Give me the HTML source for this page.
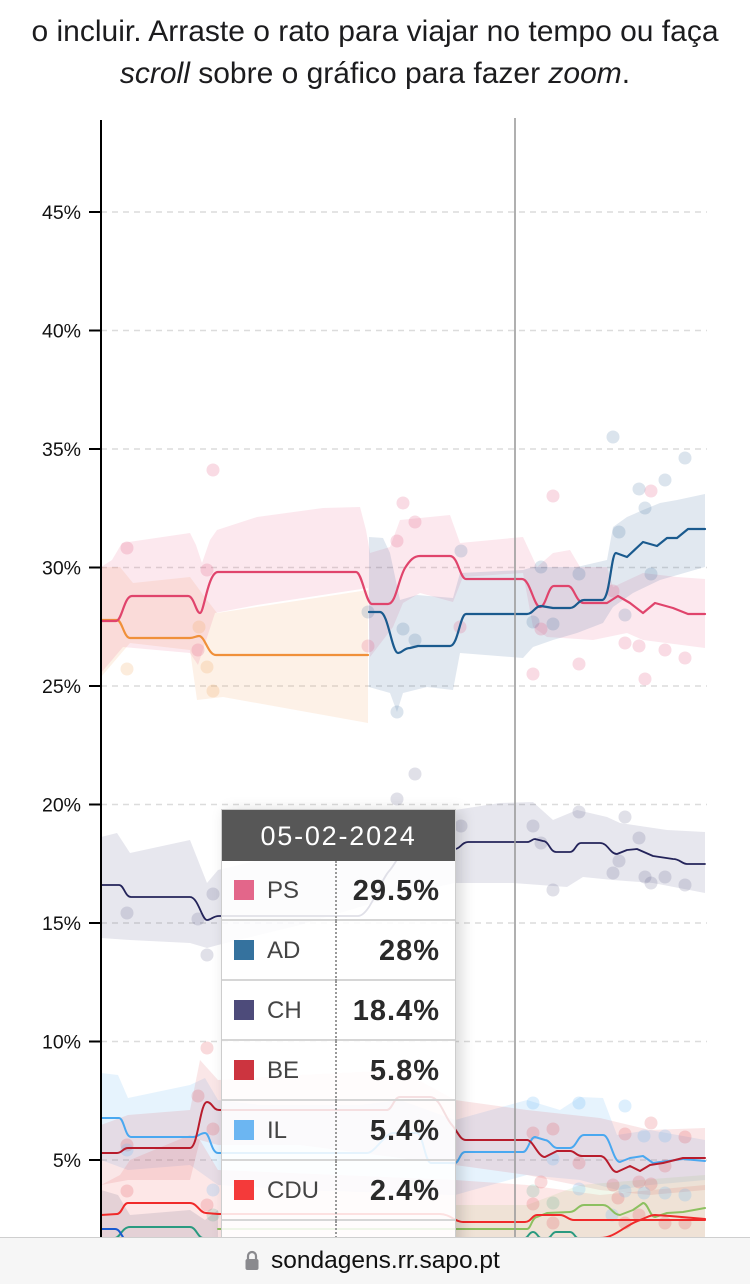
<!DOCTYPE html>
<html><head><meta charset="utf-8">
<style>
html,body{margin:0;padding:0;background:#fff;}
body{width:750px;height:1283px;position:relative;overflow:hidden;font-family:"Liberation Sans",sans-serif;}
.intro{position:absolute;left:0;width:750px;text-align:center;color:#1c1c1e;font-size:30px;line-height:42px;}
svg{position:absolute;left:0;top:0;}
.tt{position:absolute;left:221px;top:809px;width:233px;background:rgba(255,255,255,0.86);border:1px solid #cdcdcd;box-shadow:5px 2px 14px rgba(0,0,0,0.16);}
.hd{height:51px;background:#575757;color:#fff;font-size:27px;letter-spacing:1.8px;text-align:center;line-height:52px;}
.row{position:relative;height:58px;border-bottom:2px solid #d6d6d6;}
.sw{position:absolute;left:12px;top:19px;width:20px;height:20px;}
.lb{position:absolute;left:45px;top:0;line-height:60px;font-size:24px;color:#444;}
.dv{position:absolute;left:113px;top:0;height:60px;border-left:2px dotted #999;}
.vl{position:absolute;right:15px;top:0;line-height:60px;font-size:29px;font-weight:bold;color:#2a2a2a;letter-spacing:1px;}
.bar{position:absolute;left:0;top:1237px;width:750px;height:46px;background:#f6f6f6;border-top:1px solid #cfcfcf;}
.url{position:absolute;left:271px;top:8px;font-size:24.5px;color:#111;line-height:30px;}
</style></head>
<body>
<div class="intro" style="top:11px;">o incluir. Arraste o rato para viajar no tempo ou faça</div>
<div class="intro" style="top:53px;"><i>scroll</i> sobre o gráfico para fazer <i>zoom</i>.</div>

<svg width="750" height="1283" viewBox="0 0 750 1283">
<defs><clipPath id="c"><rect x="101" y="100" width="620" height="1137"/></clipPath></defs>
<g stroke="#dcdcdc" stroke-width="1.5" stroke-dasharray="6,5">
<line x1="101" y1="212" x2="707" y2="212"/>
<line x1="101" y1="330.5" x2="707" y2="330.5"/>
<line x1="101" y1="449" x2="707" y2="449"/>
<line x1="101" y1="567.5" x2="707" y2="567.5"/>
<line x1="101" y1="686" x2="707" y2="686"/>
<line x1="101" y1="804.5" x2="707" y2="804.5"/>
<line x1="101" y1="923" x2="707" y2="923"/>
<line x1="101" y1="1041.5" x2="707" y2="1041.5"/>
<line x1="101" y1="1160" x2="707" y2="1160"/>
</g>
<g clip-path="url(#c)">
<path fill="rgba(240,150,70,0.13)" d="M101,567 L120,567 L133,583 L190,577 L207,600 L217,613 L368,590 L368,723 L223,697 L197,700 L190,650 L130,643 L101,677 Z"/>
<path fill="rgba(228,80,120,0.13)" d="M101,567 L112,560 L122,543 L190,533 L196,545 L202,563 L210,540 L217,530 L257,517 L323,508 L360,507 L366,530 L370,553 L390,547 L400,520 L450,515 L460,543 L523,537 L537,567 L553,553 L570,550 L580,567 L607,567 L613,587 L643,573 L677,577 L705,579 L705,648 L643,640 L627,633 L593,640 L547,637 L533,627 L523,573 L463,577 L453,602 L420,593 L403,603 L393,627 L370,657 L368,588 L257,605 L215,613 L198,665 L190,653 L123,647 L101,673 Z"/>
<path fill="rgba(40,95,150,0.14)" d="M369,537 L383,538 L390,553 L400,600 L417,595 L453,598 L460,573 L523,570 L533,567 L577,567 L607,560 L613,527 L627,517 L643,510 L660,503 L677,500 L705,494 L705,567 L660,580 L633,593 L613,607 L603,623 L577,633 L553,640 L533,647 L523,658 L460,653 L453,690 L427,687 L403,693 L397,712 L390,693 L369,687 Z"/>
<path fill="rgba(70,70,120,0.13)" d="M101,837 L117,833 L130,853 L190,840 L207,883 L218,870 L300,850 L360,835 L400,818 L455,810 L500,803 L533,802 L553,820 L577,810 L607,817 L620,823 L667,830 L705,832 L705,893 L653,883 L613,880 L583,877 L567,887 L513,883 L455,883 L400,895 L300,925 L218,945 L207,948 L190,943 L130,940 L101,938 Z"/>
<path fill="rgba(100,180,245,0.16)" d="M101,1073 L118,1075 L128,1098 L190,1085 L205,1078 L218,1100 L260,1105 L360,1105 L400,1100 L455,1120 L527,1100 L560,1110 L580,1097 L603,1098 L617,1135 L650,1130 L705,1140 L705,1180 L650,1185 L617,1190 L580,1180 L527,1175 L455,1195 L300,1190 L218,1185 L190,1165 L128,1170 L101,1160 Z"/>
<path fill="rgba(210,50,60,0.12)" d="M101,1125 L128,1115 L190,1110 L200,1060 L218,1080 L300,1075 L400,1070 L455,1100 L527,1110 L600,1118 L650,1130 L705,1128 L705,1190 L650,1195 L600,1190 L527,1175 L455,1165 L300,1145 L218,1145 L200,1140 L190,1180 L128,1180 L101,1185 Z"/>
<path fill="rgba(240,60,60,0.12)" d="M101,1185 L120,1175 L130,1160 L190,1135 L200,1140 L218,1170 L455,1180 L527,1185 L600,1195 L705,1185 L705,1240 L101,1240 Z"/>
<path fill="rgba(140,190,90,0.12)" d="M455,1205 L527,1205 L580,1185 L640,1180 L705,1175 L705,1240 L455,1240 Z"/>
<path fill="rgba(80,80,110,0.14)" d="M101,1190 L118,1195 L130,1215 L190,1210 L205,1220 L218,1210 L218,1240 L101,1240 Z"/>
<g fill="rgba(228,90,130,0.22)">
<circle cx="127" cy="548" r="6.5"/><circle cx="213" cy="470" r="6.5"/><circle cx="207" cy="570" r="6.5"/><circle cx="198" cy="650" r="6.5"/><circle cx="368" cy="646" r="6.5"/><circle cx="403" cy="503" r="6.5"/><circle cx="415" cy="522" r="6.5"/><circle cx="397" cy="541" r="6.5"/><circle cx="460" cy="627" r="6.5"/><circle cx="533" cy="674" r="6.5"/><circle cx="541" cy="629" r="6.5"/><circle cx="553" cy="496" r="6.5"/><circle cx="579" cy="664" r="6.5"/><circle cx="613" cy="591" r="6.5"/><circle cx="625" cy="643" r="6.5"/><circle cx="639" cy="646" r="6.5"/><circle cx="645" cy="679" r="6.5"/><circle cx="651" cy="491" r="6.5"/><circle cx="665" cy="650" r="6.5"/><circle cx="685" cy="658" r="6.5"/>
</g>
<g fill="rgba(40,95,150,0.17)">
<circle cx="368" cy="612" r="6.5"/><circle cx="397" cy="712" r="6.5"/><circle cx="403" cy="629" r="6.5"/><circle cx="415" cy="640" r="6.5"/><circle cx="461" cy="551" r="6.5"/><circle cx="533" cy="622" r="6.5"/><circle cx="541" cy="567" r="6.5"/><circle cx="553" cy="624" r="6.5"/><circle cx="579" cy="574" r="6.5"/><circle cx="613" cy="437" r="6.5"/><circle cx="619" cy="532" r="6.5"/><circle cx="625" cy="615" r="6.5"/><circle cx="639" cy="489" r="6.5"/><circle cx="645" cy="508" r="6.5"/><circle cx="651" cy="574" r="6.5"/><circle cx="665" cy="480" r="6.5"/><circle cx="685" cy="458" r="6.5"/>
</g>
<g fill="rgba(240,160,80,0.2)">
<circle cx="127" cy="669" r="6.5"/><circle cx="199" cy="627" r="6.5"/><circle cx="207" cy="667" r="6.5"/><circle cx="213" cy="691" r="6.5"/>
</g>
<g fill="rgba(70,70,120,0.17)">
<circle cx="127" cy="913" r="6.5"/><circle cx="198" cy="919" r="6.5"/><circle cx="213" cy="894" r="6.5"/><circle cx="207" cy="955" r="6.5"/><circle cx="397" cy="799" r="6.5"/><circle cx="415" cy="774" r="6.5"/><circle cx="461" cy="826" r="6.5"/><circle cx="533" cy="826" r="6.5"/><circle cx="541" cy="843" r="6.5"/><circle cx="553" cy="890" r="6.5"/><circle cx="579" cy="812" r="6.5"/><circle cx="613" cy="873" r="6.5"/><circle cx="619" cy="861" r="6.5"/><circle cx="625" cy="817" r="6.5"/><circle cx="639" cy="838" r="6.5"/><circle cx="645" cy="877" r="6.5"/><circle cx="651" cy="883" r="6.5"/><circle cx="665" cy="877" r="6.5"/><circle cx="685" cy="885" r="6.5"/>
</g>
<g fill="rgba(225,70,80,0.2)">
<circle cx="207" cy="1048" r="6.5"/><circle cx="198" cy="1096" r="6.5"/><circle cx="213" cy="1129" r="6.5"/><circle cx="127" cy="1145" r="6.5"/><circle cx="127" cy="1191" r="6.5"/><circle cx="207" cy="1205" r="6.5"/><circle cx="533" cy="1133" r="6.5"/><circle cx="553" cy="1129" r="6.5"/><circle cx="579" cy="1163" r="6.5"/><circle cx="541" cy="1182" r="6.5"/><circle cx="613" cy="1185" r="6.5"/><circle cx="625" cy="1134" r="6.5"/><circle cx="651" cy="1123" r="6.5"/><circle cx="685" cy="1137" r="6.5"/><circle cx="665" cy="1166" r="6.5"/><circle cx="639" cy="1182" r="6.5"/><circle cx="651" cy="1184" r="6.5"/><circle cx="618" cy="1198" r="6.5"/><circle cx="533" cy="1204" r="6.5"/><circle cx="553" cy="1223" r="6.5"/><circle cx="625" cy="1223" r="6.5"/><circle cx="639" cy="1215" r="6.5"/><circle cx="665" cy="1223" r="6.5"/><circle cx="685" cy="1223" r="6.5"/>
</g>
<g fill="rgba(100,180,245,0.22)">
<circle cx="533" cy="1103" r="6.5"/><circle cx="579" cy="1103" r="6.5"/><circle cx="625" cy="1106" r="6.5"/><circle cx="644" cy="1136" r="6.5"/><circle cx="665" cy="1136" r="6.5"/><circle cx="579" cy="1189" r="6.5"/><circle cx="625" cy="1191" r="6.5"/><circle cx="644" cy="1193" r="6.5"/><circle cx="665" cy="1193" r="6.5"/><circle cx="685" cy="1195" r="6.5"/><circle cx="553" cy="1159" r="6.5"/><circle cx="612" cy="1215" r="6.5"/><circle cx="127" cy="1150" r="6.5"/><circle cx="213" cy="1190" r="6.5"/>
</g>
<g fill="rgba(60,160,130,0.18)">
<circle cx="533" cy="1191" r="6.5"/><circle cx="553" cy="1203" r="6.5"/><circle cx="213" cy="1215" r="6.5"/>
</g>
<g fill="none" stroke-linejoin="round" stroke-linecap="round">
<path stroke="#f0903a" stroke-width="2.2" d="M101,620 L117,620 C122,620 124,638 130,638 L190,638 C194,638 196,636 199,636 C205,636 208,655 216,655 L368,655"/>
<path stroke="#e0446c" stroke-width="2.2" d="M101,621 L116,621 C122,621 124,596 132,596 L188,596 C194,596 196,613 200,613 C204,613 208,572 218,572 L356,572 C362,572 366,604 372,604 L388,604 C396,604 398,580 405,568 C410,560 414,556 420,556 L450,556 C458,556 460,579 466,579 L522,579 C530,579 534,607 540,607 C546,607 548,586 554,586 L568,586 C574,586 576,603 584,603 L607,603 L618,596 L630,603 L643,613 L655,603 L673,608 L688,614 L705,614"/>
<path stroke="#1a5a8e" stroke-width="2.2" d="M369,612 L380,612 C388,612 392,653 398,653 C402,653 404,648 410,648 L418,646 L450,646 C458,646 460,614 466,614 L527,614 C533,614 535,606 541,606 L553,608 L570,608 C576,608 578,600 584,600 L602,600 C610,600 611,553 616,553 L627,557 L643,542 L657,546 L667,538 L677,538 L688,529 L705,529"/>
<path stroke="#24245a" stroke-width="1.8" d="M101,885 L119,885 C124,885 125,897 131,897 L190,897 C198,897 202,920 207,920 C211,920 213,916 219,916 L358,916 C370,916 380,880 390,870 C398,860 400,850 410,850 L455,849 C460,849 462,842 468,842 L527,842 C531,842 532,839 535,839 L543,841 C549,841 550,852 556,852 L570,852 C575,852 576,843 581,843 L600,843 C608,843 610,854 617,854 L627,850 L637,849 L653,856 L673,859 C680,859 682,864 687,864 L705,864"/>
<path stroke="#4aa8f0" stroke-width="2" d="M101,1118 L119,1118 C124,1118 125,1137 131,1137 L193,1137 C198,1137 200,1133 205,1133 C210,1133 211,1153 218,1153 L367,1153 C375,1153 385,1133 393,1133 L417,1133 C423,1133 425,1163 431,1163 L455,1163 C459,1163 460,1152 465,1152 L523,1152 C528,1152 530,1137 535,1137 L545,1140 C550,1140 552,1148 557,1148 L570,1148 C576,1148 578,1135 584,1135 L603,1135 C610,1135 613,1162 620,1162 L630,1158 L643,1156 L653,1163 L683,1159 L705,1161"/>
<path stroke="#b81c2c" stroke-width="2" d="M101,1153 L117,1153 C122,1153 123,1148 128,1148 L190,1148 C198,1148 200,1102 207,1102 C212,1102 213,1110 219,1110 L387,1110 C392,1110 394,1097 400,1097 L430,1097 C440,1097 445,1118 452,1125 C458,1132 460,1140 466,1140 L527,1140 C533,1140 538,1157 545,1157 L557,1151 L570,1151 C575,1151 576,1156 582,1156 L600,1156 C608,1156 610,1172 617,1172 L630,1166 L640,1171 L650,1165 L663,1163 L683,1158 L705,1158"/>
<path stroke="#8cc060" stroke-width="2" d="M218,1229 L527,1229 C531,1229 532,1217 537,1217 L547,1213 L570,1212 C576,1212 578,1205 584,1205 L603,1205 C610,1205 613,1215 620,1215 L633,1210 L643,1203 C648,1203 650,1217 655,1217 L667,1213 L683,1212 L705,1208"/>
<path stroke="#f02a2a" stroke-width="2" d="M101,1215 L117,1214 C122,1214 123,1203 128,1203 L190,1203 C197,1203 200,1213 206,1213 L218,1214 L440,1214 C450,1214 455,1222 463,1222 L525,1222 C531,1222 532,1215 537,1215 L560,1215 C566,1215 568,1220 574,1220 L705,1220"/>
<path stroke="#f02a2a" stroke-width="2" d="M560,1238 L600,1238 C615,1238 625,1225 640,1220 C648,1217 650,1215 655,1215 L670,1216 L705,1219"/>
<path stroke="#2a9a80" stroke-width="2" d="M101,1238 L115,1238 C120,1238 122,1227 130,1227 L190,1227 C196,1227 198,1238 203,1238 M525,1238 C528,1238 529,1232 533,1232 C537,1232 538,1238 541,1238 M548,1238 C551,1238 552,1232 556,1232 L570,1232 C574,1232 575,1238 578,1238"/>
<path stroke="#1a5ad0" stroke-width="2" d="M101,1229 L115,1229 C120,1229 122,1237 125,1240"/>
</g>
</g>
<line x1="515" y1="118" x2="515" y2="1237" stroke="#9c9c9c" stroke-width="1.6"/>
<line x1="101" y1="120" x2="101" y2="1237" stroke="#000" stroke-width="2"/>
<g stroke="#000" stroke-width="2">
<line x1="89" y1="212" x2="101" y2="212"/><line x1="89" y1="330.5" x2="101" y2="330.5"/><line x1="89" y1="449" x2="101" y2="449"/><line x1="89" y1="567.5" x2="101" y2="567.5"/><line x1="89" y1="686" x2="101" y2="686"/><line x1="89" y1="804.5" x2="101" y2="804.5"/><line x1="89" y1="923" x2="101" y2="923"/><line x1="89" y1="1041.5" x2="101" y2="1041.5"/><line x1="89" y1="1160" x2="101" y2="1160"/>
</g>
<g font-family="Liberation Sans, sans-serif" font-size="19.5" fill="#111" text-anchor="end">
<text x="81" y="219">45%</text><text x="81" y="337.5">40%</text><text x="81" y="456">35%</text><text x="81" y="574.5">30%</text><text x="81" y="693">25%</text><text x="81" y="811.5">20%</text><text x="81" y="930">15%</text><text x="81" y="1048.5">10%</text><text x="81" y="1167">5%</text>
</g>
</svg>

<div class="tt">
<div class="hd">05-02-2024</div>
<div class="row"><div class="sw" style="background:#e3668a"></div><div class="lb">PS</div><div class="dv"></div><div class="vl">29.5%</div></div>
<div class="row"><div class="sw" style="background:#35729e"></div><div class="lb">AD</div><div class="dv"></div><div class="vl">28%</div></div>
<div class="row"><div class="sw" style="background:#4d4b7a"></div><div class="lb">CH</div><div class="dv"></div><div class="vl">18.4%</div></div>
<div class="row"><div class="sw" style="background:#cc343f"></div><div class="lb">BE</div><div class="dv"></div><div class="vl">5.8%</div></div>
<div class="row"><div class="sw" style="background:#6cb6f2"></div><div class="lb">IL</div><div class="dv"></div><div class="vl">5.4%</div></div>
<div class="row"><div class="sw" style="background:#f43a3a"></div><div class="lb">CDU</div><div class="dv"></div><div class="vl">2.4%</div></div>
<div class="row"><div class="dv"></div></div>
</div>

<div class="bar">
<svg width="20" height="24" style="left:242px;top:11px;" viewBox="0 0 20 24">
<path d="M6,10 V7 a4,4 0 0 1 8,0 V10" fill="none" stroke="#8a8a8e" stroke-width="2.2"/>
<rect x="3.5" y="10" width="13" height="11" rx="2" fill="#8a8a8e"/>
</svg>
<div class="url">sondagens.rr.sapo.pt</div>
</div>
</body></html>
